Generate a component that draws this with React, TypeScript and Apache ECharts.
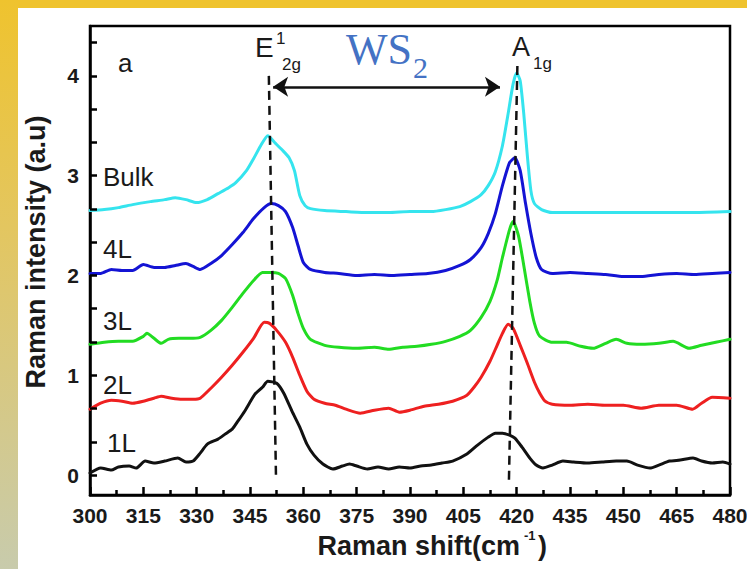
import React, { useEffect, useRef } from "react";
import * as echarts from "echarts";

// Raman spectra of WS2 flakes (1L … bulk), stacked with vertical offsets.
const bulkShift = [300, 304, 308, 312, 317, 321, 324, 327, 330, 333, 336, 339, 341, 344, 346, 348, 350, 352, 354, 356, 357.5, 359, 360.5, 362, 366, 372, 378, 384, 390, 396, 400, 404, 407, 410, 412, 414, 416, 417.5, 419, 420, 421, 422, 423, 424, 425, 427, 430, 440, 450, 460, 470, 480];
const bulkIntensity = [2.65, 2.66, 2.68, 2.71, 2.74, 2.76, 2.78, 2.76, 2.73, 2.76, 2.82, 2.88, 2.93, 3.05, 3.17, 3.3, 3.4, 3.33, 3.26, 3.18, 3.05, 2.8, 2.7, 2.67, 2.65, 2.64, 2.63, 2.63, 2.64, 2.64, 2.66, 2.69, 2.74, 2.81, 2.9, 3.04, 3.3, 3.6, 3.92, 4.03, 3.95, 3.62, 3.2, 2.85, 2.72, 2.66, 2.63, 2.63, 2.63, 2.63, 2.63, 2.64];

const l4Shift = [300, 303, 306, 309, 312, 315, 318, 321, 324, 327, 329, 331, 334, 337, 340, 343, 346, 349, 351, 353, 355, 357, 358.5, 360, 362, 366, 370, 375, 380, 385, 390, 395, 400, 404, 407, 410, 412, 414, 416, 418, 419.5, 421, 422.5, 424, 425.5, 427, 430, 435, 440, 445, 450, 455, 460, 465, 470, 475, 480];
const l4Intensity = [2.02, 2.02, 2.06, 2.05, 2.05, 2.11, 2.08, 2.08, 2.1, 2.12, 2.09, 2.06, 2.12, 2.2, 2.31, 2.43, 2.57, 2.68, 2.72, 2.7, 2.64, 2.48, 2.3, 2.13, 2.06, 2.03, 2.02, 2.0, 2.01, 2.0, 2.01, 2.02, 2.05, 2.1, 2.16, 2.28, 2.42, 2.62, 2.9, 3.13, 3.18, 3.05, 2.72, 2.42, 2.18, 2.06, 2.02, 2.03, 2.02, 2.01, 1.99, 1.99, 2.01, 2.02, 2.01, 2.02, 2.03];

const l3Shift = [300, 304, 308, 312, 315, 316, 318, 320, 322, 325, 328, 331, 334, 337, 340, 343, 346, 348.5, 351, 353, 355, 357, 358.5, 360, 362, 366, 370, 375, 380, 384, 388, 392, 396, 400, 404, 407, 410, 412.5, 414.5, 416, 418, 419, 420.5, 422, 423.7, 425, 426.5, 430, 434, 438, 441.5, 445, 448, 451, 455, 460, 464, 468.5, 472, 476, 480];
const l3Intensity = [1.31, 1.33, 1.34, 1.34, 1.39, 1.42, 1.37, 1.32, 1.36, 1.37, 1.37, 1.38, 1.45, 1.55, 1.68, 1.82, 1.95, 2.03, 2.03, 2.02, 1.97, 1.8, 1.62, 1.47, 1.36, 1.3, 1.28, 1.27, 1.28, 1.26, 1.28, 1.29, 1.31, 1.34, 1.39, 1.45, 1.58, 1.74, 1.95, 2.18, 2.46, 2.54, 2.4, 2.1, 1.74, 1.52, 1.39, 1.33, 1.33, 1.29, 1.27, 1.32, 1.36, 1.32, 1.31, 1.32, 1.34, 1.27, 1.3, 1.33, 1.36];

const l2Shift = [300, 303, 306, 309, 312, 315, 318, 320, 323, 326, 329, 331, 334, 337, 340, 343, 346, 349, 350.5, 352.5, 355, 357, 359, 361, 363, 366, 369, 372, 376, 380, 384, 387, 390, 394, 398, 402, 406, 408, 410, 412.5, 414.5, 416, 417.6, 419, 421, 423, 425, 426.5, 428, 430, 435, 440, 445, 450, 455, 460, 465, 469.5, 472, 475, 480];
const l2Intensity = [0.66, 0.72, 0.75, 0.74, 0.72, 0.74, 0.77, 0.79, 0.77, 0.76, 0.76, 0.77, 0.87, 0.98, 1.1, 1.23, 1.37, 1.53, 1.52, 1.45, 1.33, 1.18, 1.0, 0.84, 0.76, 0.72, 0.7, 0.66, 0.62, 0.65, 0.67, 0.63, 0.65, 0.69, 0.71, 0.74, 0.8, 0.88, 0.98, 1.14, 1.3, 1.42, 1.51, 1.47, 1.3, 1.12, 0.93, 0.82, 0.74, 0.71, 0.7, 0.71, 0.7, 0.7, 0.67, 0.7, 0.7, 0.66, 0.72, 0.78, 0.77];

const l1Shift = [300, 303, 306, 308, 311, 313, 315.5, 318, 321, 324.7, 327, 329, 331, 333, 336, 338, 340, 341.6, 343.5, 346.4, 348.5, 350, 352.5, 354.5, 356.8, 359, 361, 363, 365.5, 368.3, 371, 373, 375, 378, 381, 384, 387, 390, 393, 396, 399, 402, 406, 409, 412, 414, 416, 418, 419.5, 421.5, 423.7, 425.5, 427.4, 430, 433, 436, 440, 444, 448, 451, 454, 457.5, 460, 463, 466, 469.6, 472, 475, 478, 480];
const l1Intensity = [0.02, 0.07, 0.05, 0.08, 0.09, 0.07, 0.14, 0.12, 0.14, 0.17, 0.13, 0.14, 0.22, 0.31, 0.36, 0.41, 0.46, 0.54, 0.64, 0.81, 0.88, 0.94, 0.92, 0.82, 0.64, 0.48, 0.31, 0.2, 0.11, 0.06, 0.09, 0.11, 0.09, 0.06, 0.08, 0.06, 0.08, 0.07, 0.09, 0.1, 0.12, 0.14, 0.21, 0.3, 0.38, 0.42, 0.42, 0.4, 0.37, 0.28, 0.17, 0.1, 0.07, 0.1, 0.14, 0.13, 0.12, 0.13, 0.14, 0.14, 0.1, 0.07, 0.1, 0.14, 0.15, 0.17, 0.14, 0.12, 0.13, 0.11];

const layerNames = ["Bulk", "4L", "3L", "2L", "1L"];
const layerColors = ["#35e4ee", "#1414d4", "#22dc22", "#ee2020", "#111111"];

// axis ranges and tick positions
const SHIFT_MIN = 300;
const SHIFT_MAX = 480;
const INTENSITY_MIN = -0.2;
const INTENSITY_MAX = 4.5;
const shiftMajorTicks = [300, 315, 330, 345, 360, 375, 390, 405, 420, 435, 450, 465, 480];
const shiftMinorTicks = [307.5, 322.5, 337.5, 352.5, 367.5, 382.5, 397.5, 412.5, 427.5, 442.5, 457.5, 472.5];
const intensityLabelValues = [0, 1, 2, 3, 4];
// tick marks every third of a unit
const intensityTickValues = Array.from({ length: 14 }, (_, i) => Math.round((i / 3) * 1000) / 1000);

// mode positions (E¹2g and A1g guides) and the separation arrow
const e2gGuide = [[350.3, 4.0], [352.3, 0.0]];
const a1gGuide = [[420.2, 4.1], [417.8, -0.1]];
const separationArrow = [[351.5, 3.89], [415.3, 3.89]];

const SANS = '"Liberation Sans", Arial, sans-serif';
const SERIF = '"Liberation Serif", "Times New Roman", serif';

// plot box in pixels, used to turn tick lengths into axis units
const GRID = { left: 90, right: 17, top: 26, bottom: 74 };
const PLOT_W = 747 - GRID.left - GRID.right;
const PLOT_H = 569 - GRID.top - GRID.bottom;
const pxToIntensity = (px: number) => (px * (INTENSITY_MAX - INTENSITY_MIN)) / PLOT_H;
const pxToShift = (px: number) => (px * (SHIFT_MAX - SHIFT_MIN)) / PLOT_W;

function zip(xs: number[], ys: number[]) {
  return xs.map((x, i) => [x, ys[i]]);
}

export default function App() {
  const ref = useRef<HTMLDivElement>(null);

  useEffect(() => {
    const chart = echarts.init(ref.current!, null, { renderer: "svg" });
    const spectra = [
      zip(bulkShift, bulkIntensity),
      zip(l4Shift, l4Intensity),
      zip(l3Shift, l3Intensity),
      zip(l2Shift, l2Intensity),
      zip(l1Shift, l1Intensity),
    ];

    const series: any[] = spectra.map((data, i) => ({
      name: layerNames[i],
      type: "line",
      data,
      symbol: "none",
      smooth: 0.2,
      lineStyle: { color: layerColors[i], width: 3, cap: "round", join: "round" },
      silent: true,
      z: 3,
    }));

    series[4].markLine = {
      silent: true,
      symbol: "none",
      label: { show: false },
      lineStyle: { color: "#111", width: 2.5, type: [9, 6] },
      data: [
        [{ coord: e2gGuide[0] }, { coord: e2gGuide[1] }],
        [{ coord: a1gGuide[0] }, { coord: a1gGuide[1] }],
      ],
    };
    series[3].markLine = {
      silent: true,
      symbol: ["arrow", "arrow"],
      symbolSize: 15,
      label: { show: false },
      lineStyle: { color: "#111", width: 2.5, type: "solid" },
      data: [[{ coord: separationArrow[0] }, { coord: separationArrow[1] }]],
    };

    // inward tick marks on the bottom and left axes
    const majorLen = pxToIntensity(8);
    const minorLen = pxToIntensity(5);
    const yTickLen = pxToShift(7);
    series[2].markLine = {
      silent: true,
      symbol: "none",
      label: { show: false },
      lineStyle: { color: "#000", width: 2.5, type: "solid" },
      data: [
        ...shiftMajorTicks.map((v) => [{ coord: [v, INTENSITY_MIN] }, { coord: [v, INTENSITY_MIN + majorLen] }]),
        ...shiftMinorTicks.map((v) => [{ coord: [v, INTENSITY_MIN] }, { coord: [v, INTENSITY_MIN + minorLen] }]),
        ...intensityTickValues.map((v) => [{ coord: [SHIFT_MIN, v] }, { coord: [SHIFT_MIN + yTickLen, v] }]),
      ],
    };

    const text = (t: string, x: number, y: number, font: string, extra: any = {}) => ({
      type: "text",
      x,
      y,
      silent: true,
      z: 10,
      style: {
        text: t,
        font,
        fill: extra.fill || "#1a1a1a",
        align: extra.align || "left",
        verticalAlign: "middle",
        textAlign: extra.align || "left",
        textVerticalAlign: "middle",
      },
    });

    const labelFont = `26px ${SANS}`;
    const graphic: any[] = [
      text("a", 118, 63, labelFont),
      text("Bulk", 103, 177, labelFont),
      text("4L", 103, 249, labelFont),
      text("3L", 103, 321, labelFont),
      text("2L", 103, 385, labelFont),
      text("1L", 107, 443, labelFont),
      text("E", 255, 47, `28px ${SANS}`),
      text("1", 276, 38, `17px ${SANS}`),
      text("2g", 282, 64, `17px ${SANS}`),
      text("A", 512, 47, `27px ${SANS}`),
      text("1g", 533, 63, `17px ${SANS}`),
      text("WS", 346, 49, `44px ${SERIF}`, { fill: "#4472c4" }),
      text("2", 413, 67, `30px ${SERIF}`, { fill: "#4472c4" }),
      text("Raman shift(cm", 520, 546, `bold 27px ${SANS}`, { align: "right" }),
      text("-1", 524, 535, `bold 13px ${SANS}`),
      text(")", 538, 546, `bold 27px ${SANS}`),
      {
        type: "text",
        x: 36,
        y: 252,
        rotation: Math.PI / 2,
        silent: true,
        style: {
          text: "Raman intensity (a.u)",
          font: `bold 27px ${SANS}`,
          fill: "#1a1a1a",
          align: "center",
          verticalAlign: "middle",
          textAlign: "center",
          textVerticalAlign: "middle",
        },
      },
    ];

    chart.setOption({
      animation: false,
      backgroundColor: "transparent",
      grid: {
        ...GRID,
        show: true,
        borderColor: "#000",
        borderWidth: 2.5,
        backgroundColor: "transparent",
        containLabel: false,
        outerBoundsMode: "none",
      },
      xAxis: {
        type: "value",
        min: SHIFT_MIN,
        max: SHIFT_MAX,
        interval: 15,
        axisLine: { show: true, onZero: false, lineStyle: { color: "#000", width: 2.5 } },
        axisTick: { show: false },
        minorTick: { show: false },
        splitLine: { show: false },
        axisLabel: {
          color: "#1a1a1a",
          fontFamily: SANS,
          fontWeight: "bold",
          fontSize: 21,
          margin: 10,
          showMaxLabel: true,
          showMinLabel: true,
        },
      },
      yAxis: {
        type: "value",
        min: INTENSITY_MIN,
        max: INTENSITY_MAX,
        axisLine: { show: true, onZero: false, lineStyle: { color: "#000", width: 2.5 } },
        axisTick: { show: false },
        splitLine: { show: false },
        axisLabel: {
          color: "#1a1a1a",
          fontFamily: SANS,
          fontWeight: "bold",
          fontSize: 21,
          margin: 11,
          customValues: intensityLabelValues,
        },
      },
      series,
      graphic,
    });
    return () => chart.dispose();
  }, []);

  return (
    <div style={{ position: "absolute", left: 0, top: 0, width: 747, height: 569, background: "#fff", overflow: "hidden" }}>
      <div ref={ref} style={{ position: "absolute", left: 0, top: 0, width: 747, height: 569 }} />
      <div style={{ position: "absolute", left: 0, top: 0, width: 747, height: 8, background: "#efc32e" }} />
      <div
        style={{
          position: "absolute",
          left: 0,
          top: 0,
          width: 18,
          height: 569,
          background: "linear-gradient(#efc32e 0%, #e3c660 40%, #c8cbac 100%)",
        }}
      />
    </div>
  );
}
